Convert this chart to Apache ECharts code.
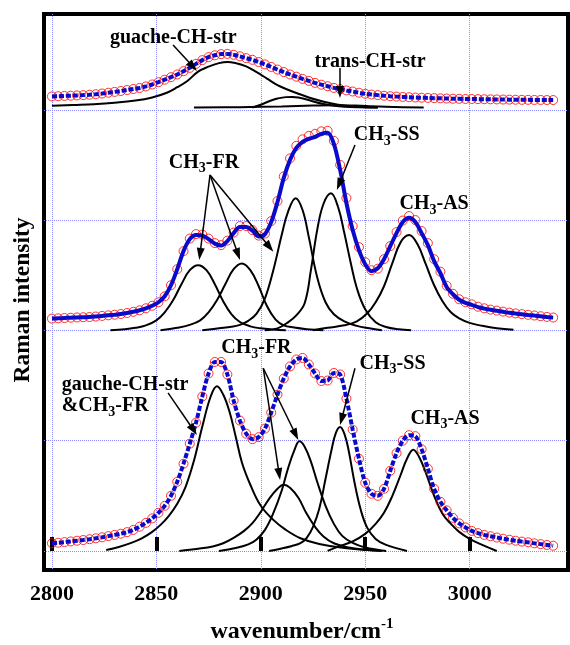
<!DOCTYPE html>
<html>
<head>
<meta charset="utf-8">
<title>Raman CH stretching region</title>
<script src="https://cdn.jsdelivr.net/npm/echarts@6/dist/echarts.min.js"></script>
<style>
  html, body { margin: 0; padding: 0; background: #fff; }
  #chart { width: 570px; height: 645px; }
</style>
</head>
<body>
<div id="chart"></div>
<script>
// 测量点的横坐标 (cm-1)
const wavenumber = [
  2800, 2803, 2806, 2809, 2812, 2815, 2818, 2821, 2824, 2827,
  2830, 2833, 2836, 2839, 2842, 2845, 2848, 2851, 2854, 2857,
  2860, 2863, 2866, 2869, 2872, 2875, 2878, 2881, 2884, 2887,
  2890, 2893, 2896, 2899, 2902, 2905, 2908, 2911, 2914, 2917,
  2920, 2923, 2926, 2929, 2932, 2935, 2938, 2941, 2944, 2947,
  2950, 2953, 2956, 2959, 2962, 2965, 2968, 2971, 2974, 2977,
  2980, 2983, 2986, 2989, 2992, 2995, 2998, 3001, 3004, 3007,
  3010, 3013, 3016, 3019, 3022, 3025, 3028, 3031, 3034, 3037,
  3040
];

// 上层谱图 (测量值, 拟合线与之重合)
const topCounts = [
  13.3, 13.5, 13.8, 14.0, 14.3, 14.6, 15.0, 15.5, 16.2, 17.0,
  17.8, 18.7, 19.7, 20.7, 21.7, 23.3, 25.2, 27.5, 30.0, 32.5,
  35.2, 38.5, 41.8, 45.8, 49.5, 52.5, 54.3, 55.5, 55.7, 54.8,
  53.3, 51.5, 49.8, 47.6, 45.2, 42.7, 40.1, 37.6, 35.2, 33.0,
  30.8, 28.8, 26.8, 25.0, 23.5, 21.8, 20.5, 19.3, 18.2, 17.0,
  16.0, 15.2, 14.6, 14.0, 13.5, 13.1, 12.8, 12.5, 12.2, 12.0,
  11.8, 11.6, 11.4, 11.2, 11.0, 10.9, 10.8, 10.7, 10.6, 10.5,
  10.4, 10.3, 10.2, 10.1, 10.0, 9.9, 9.9, 9.8, 9.8, 9.7,
  9.7
];

// 中层谱图
const midCounts = [
  11.7, 12.0, 12.3, 12.6, 12.9, 13.1, 13.3, 13.8, 14.4, 15.0,
  15.6, 16.3, 17.3, 18.5, 20.0, 22.0, 24.5, 28.0, 34.0, 45.0,
  61, 79, 91.5, 96, 95.5, 91.5, 87, 85, 89.5, 97.5,
  104, 104, 100, 94.5, 96.5, 109, 129, 153.5, 171.5, 184,
  190.5, 194, 196, 198.5, 199, 189, 165, 132, 104, 83,
  68, 60, 61.5, 71, 84, 98, 109.5, 114, 110, 99,
  87, 71, 58.5, 44.5, 36.5, 31, 28, 26, 23.6, 22,
  20.7, 19.7, 18.7, 17.7, 16.9, 16.2, 15.5, 14.8, 14.1, 13.4,
  12.8
];
const midFit = [
  11.7, 12.0, 12.3, 12.6, 12.9, 13.1, 13.3, 13.8, 14.4, 15.0,
  15.6, 16.3, 17.3, 18.5, 20.0, 22.0, 24.5, 28.0, 34.0, 45.0,
  61.0, 79.0, 91.0, 95.0, 94.5, 91.0, 86.5, 84.5, 89.0, 97.0,
  103, 103, 99.5, 93.5, 96, 108, 128, 152, 170, 182,
  188, 191, 193, 196, 197, 186, 160, 127, 100, 80,
  66, 59, 62, 71, 84, 97, 108, 112.3, 108, 97,
  85, 69, 57, 43.3, 36, 30.5, 27.5, 25.5, 23.2, 21.7,
  20.5, 19.5, 18.5, 17.5, 16.7, 16.0, 15.3, 14.7, 14.0, 13.3,
  12.7
];

// 下层谱图 (测量值, 拟合线与之重合)
const botCounts = [
  7.7, 8.2, 8.8, 9.5, 10.2, 10.9, 11.7, 12.6, 13.6, 14.8,
  16.0, 17.2, 18.8, 21.0, 24.2, 28.0, 32.5, 38.0, 45.0, 55.0,
  69, 87, 107, 128, 154, 177, 188.5, 188.5, 176, 150,
  130, 117, 111.5, 113.5, 122, 138, 156, 172, 184, 191,
  192.5, 186, 177, 169.5, 170, 177.5, 176, 152, 121, 92,
  68, 57, 55, 62, 80, 97.5, 110, 115.5, 114.5, 101.5,
  82, 62, 49, 40.5, 33, 27.5, 23.5, 20, 17.8, 16,
  14.7, 13.4, 12.2, 11.2, 10.2, 9.3, 8.6, 7.6, 6.8, 6.0,
  5.2
];

// 分峰 (上层)
const topGaucheX = [2800, 2810, 2820, 2830, 2840, 2848, 2855, 2860, 2865, 2870, 2875, 2880, 2884, 2888, 2893, 2898, 2903, 2908, 2913, 2918, 2923, 2928, 2933, 2940, 2948, 2956];
const topGaucheY = [4.0, 4.8, 5.6, 7.0, 9.2, 12.3, 17.0, 22.5, 29.0, 38.0, 43.0, 46.5, 47.7, 46.5, 43.3, 37.5, 31.0, 24.5, 20.0, 16.0, 12.3, 9.2, 6.7, 4.2, 2.8, 2.3];
const topSmallX = [2896, 2900, 2904, 2908, 2912, 2915, 2918, 2922, 2926, 2930, 2935, 2940, 2947, 2956];
const topSmallY = [2.3, 5.0, 8.5, 11.2, 12.6, 12.7, 12.2, 10.3, 7.8, 5.8, 4.0, 3.0, 2.5, 2.3];
const topTransX = [2868, 2890, 2910, 2925, 2935, 2945, 2960, 2978];
const topTransY = [2.3, 2.6, 3.3, 4.2, 4.6, 4.2, 3.0, 2.3];

// 分峰 (中层)
const midFR1X = [2828, 2835, 2840, 2845, 2850, 2854, 2858, 2862, 2866, 2870, 2874, 2878, 2882, 2886, 2890, 2895, 2900, 2906, 2912];
const midFR1Y = [0, 1, 2.5, 5, 10, 18, 30, 46, 60, 65, 60, 46, 29, 16, 8.3, 4, 2, 0.8, 0];
const midFR2X = [2852, 2860, 2866, 2871, 2875, 2879, 2883, 2887, 2891, 2895, 2899, 2903, 2907, 2911, 2916, 2922, 2930];
const midFR2Y = [0, 2.5, 5.5, 10, 18, 30, 46, 61, 66.7, 60, 44, 24, 11, 5, 2.8, 1.2, 0];
const midFR3X = [2872, 2880, 2886, 2890, 2894, 2898, 2902, 2906, 2910, 2913, 2916.7, 2920, 2923, 2927, 2931, 2935, 2940, 2946, 2952, 2958];
const midFR3Y = [0, 2, 3.5, 5.5, 9.5, 16.7, 32, 60, 95, 118, 131.7, 120, 93, 53, 28, 16, 9, 4.5, 2, 0];
const midSSX = [2902, 2908, 2913, 2917, 2921, 2924, 2927, 2930, 2933.6, 2937, 2940, 2943, 2946, 2950, 2955, 2960, 2966, 2972];
const midSSY = [0, 2, 8, 15, 27, 60, 100, 126, 136.7, 123, 97, 68, 42, 21, 8, 3.3, 1, 0];
const midASX = [2925, 2932, 2940, 2946, 2951, 2955, 2959, 2963, 2967, 2971, 2975, 2979, 2983, 2987, 2991, 2995, 3000, 3006, 3013, 3021];
const midASY = [0, 2.5, 5, 9, 17, 28, 44, 67, 88, 95, 86, 66, 45, 29, 18, 12, 7.5, 4.5, 2, 0.5];

// 分峰 (下层)
const botGFX = [2826, 2832, 2838, 2843, 2848, 2852, 2856, 2860, 2864, 2868, 2872, 2876, 2879, 2882, 2885, 2888, 2891, 2895, 2900, 2906, 2912, 2919, 2928, 2940, 2957];
const botGFY = [1, 4, 8, 12.5, 19, 26, 35, 47, 64, 90, 124, 154, 164.3, 156, 139, 114, 88, 66, 45, 31, 21, 12.7, 7, 3, 0.5];
const botFRaX = [2861, 2870, 2877, 2882, 2887, 2892, 2896, 2900, 2904, 2908, 2911, 2914, 2918, 2922, 2926, 2930, 2935, 2942, 2950, 2958];
const botFRaY = [0, 2.2, 4.5, 7.7, 13, 20, 27.7, 39, 52, 62, 66, 63, 53, 37, 24, 14.5, 7.7, 3.5, 1.2, 0];
const botFRbX = [2880, 2888, 2894, 2898, 2902, 2906, 2910, 2913, 2916, 2918.5, 2921, 2924, 2927, 2931, 2935, 2939, 2944, 2950, 2960];
const botFRbY = [0, 3, 6.5, 11.5, 21, 37.7, 60, 82, 100, 109.3, 104, 89, 69, 45, 27, 15, 8, 3.5, 0];
const botSSX = [2904, 2910, 2915, 2919, 2922, 2925, 2928, 2931, 2934, 2936, 2938, 2940, 2942, 2945, 2948, 2951, 2955, 2960, 2970];
const botSSY = [0, 2.5, 5, 7.7, 13, 24, 42, 72, 102, 118, 123.7, 117, 101, 67, 40, 23, 12, 6, 0];
const botASX = [2932, 2938, 2944, 2950, 2955, 2959, 2963, 2967, 2970, 2973, 2976, 2979, 2983, 2987, 2991, 2995, 3000, 3006, 3013];
const botASY = [0, 5, 9.5, 17, 27, 38, 55, 76, 92, 101, 93, 78, 55, 37, 27, 19, 12, 6, 0];

// 刻度
const xTicks = [2800, 2850, 2900, 2950, 3000];
const yGrid = [0, 110, 220, 330, 440];

// 标注文字 [文字, x, y, 对齐]
const notes = [
  ['guache-CH-str', 2858.1, 512.1, 'c'],
  ['trans-CH-str', 2952.3, 487.4, 'c'],
  ['{m|CH}{s|3}{m|-FR}', 2872.8, 387.5, 'c'],
  ['{m|CH}{s|3}{m|-SS}', 2960.3, 414.9, 'c'],
  ['{m|CH}{s|3}{m|-AS}', 2983.0, 346.1, 'c'],
  ['gauche-CH-str', 2804.4, 165.6, 'l'],
  ['{m|&CH}{s|3}{m|-FR}', 2804.4, 144.6, 'l'],
  ['{m|CH}{s|3}{m|-FR}', 2897.9, 202.2, 'c'],
  ['{m|CH}{s|3}{m|-SS}', 2963.1, 186.8, 'c'],
  ['{m|CH}{s|3}{m|-AS}', 2988.2, 131.8, 'c']
];
// 箭头 [起点, 终点]
const arrows = [
  [[2858.0, 504.6], [2867.5, 483.1]],
  [[2937.9, 481.7], [2937.9, 457.8]],
  [[2875.7, 375.0], [2870.9, 296.2]],
  [[2875.7, 375.0], [2889.1, 295.9]],
  [[2875.7, 375.0], [2904.2, 303.1]],
  [[2945.1, 404.9], [2937.5, 365.6]],
  [[2855.6, 157.6], [2867.8, 120.6]],
  [[2901.2, 182.2], [2908.8, 76.7]],
  [[2901.2, 182.2], [2916.7, 116.1]],
  [[2945.1, 182.2], [2938.7, 131.4]]
];

const panelOffset = { top: 440, mid: 220, bot: 0 };
const FONT = '"Liberation Serif", "Times New Roman", serif';
const RED = '#ff0000';
const BLUE = '#0a0acd';
const GRIDCOLOR = '#8c8cff';

const toPairs = (xs, ys, off) => xs.map((x, i) => [x, ys[i] + off]);

const components = [
  [topGaucheX, topGaucheY, panelOffset.top],
  [topSmallX, topSmallY, panelOffset.top],
  [topTransX, topTransY, panelOffset.top],
  [midFR1X, midFR1Y, panelOffset.mid],
  [midFR2X, midFR2Y, panelOffset.mid],
  [midFR3X, midFR3Y, panelOffset.mid],
  [midSSX, midSSY, panelOffset.mid],
  [midASX, midASY, panelOffset.mid],
  [botGFX, botGFY, panelOffset.bot],
  [botFRaX, botFRaY, panelOffset.bot],
  [botFRbX, botFRbY, panelOffset.bot],
  [botSSX, botSSY, panelOffset.bot],
  [botASX, botASY, panelOffset.bot]
];

const series = [];
components.forEach(c => {
  series.push({
    type: 'line',
    data: toPairs(c[0], c[1], c[2]),
    smooth: 0.4,
    symbol: 'none',
    lineStyle: { color: '#000', width: 2 },
    z: 2,
    silent: true
  });
});

// 测量点: 红色空心圆
[[topCounts, panelOffset.top], [midCounts, panelOffset.mid], [botCounts, panelOffset.bot]].forEach(p => {
  series.push({
    type: 'scatter',
    data: toPairs(wavenumber, p[0], p[1]),
    symbol: 'circle',
    symbolSize: 9,
    itemStyle: { color: 'rgba(255,255,255,0)', borderColor: RED, borderWidth: 1 },
    z: 3,
    silent: true
  });
});

// 拟合线: 蓝色
[[topCounts, panelOffset.top, [5, 2]], [midFit, panelOffset.mid, 'solid'], [botCounts, panelOffset.bot, [5, 2]]].forEach(p => {
  series.push({
    type: 'line',
    data: toPairs(wavenumber, p[0], p[1]),
    smooth: 0.3,
    symbol: 'none',
    lineStyle: { color: BLUE, width: 4, type: p[2] },
    z: 4,
    silent: true
  });
});

const richStyle = {
  m: { fontSize: 20, fontWeight: 'bold', fontFamily: FONT, color: '#000', lineHeight: 26 },
  s: { fontSize: 14, fontWeight: 'bold', fontFamily: FONT, color: '#000', lineHeight: 12, verticalAlign: 'bottom' }
};

// 标注 (文字和箭头)
series.push({
  type: 'line',
  data: [],
  z: 5,
  silent: true,
  markPoint: {
    symbol: 'circle',
    symbolSize: 1,
    itemStyle: { color: 'rgba(0,0,0,0)' },
    animation: false,
    data: notes.map(n => ({
      name: n[0],
      coord: [n[1], n[2]],
      label: {
        show: true,
        position: n[3] === 'l' ? 'right' : 'inside',
        distance: 0,
        formatter: p => p.name,
        fontSize: 20,
        fontWeight: 'bold',
        fontFamily: FONT,
        color: '#000',
        lineHeight: 26,
        rich: richStyle
      }
    }))
  },
  markLine: {
    silent: true,
    animation: false,
    label: { show: false },
    lineStyle: { color: '#000', width: 1.5, type: 'solid' },
    emphasis: { disabled: true },
    data: arrows.map(a => [
      { coord: a[0], symbol: 'none' },
      { coord: a[1], symbol: 'triangle', symbolSize: [8, 12] }
    ])
  }
});

const chart = echarts.init(document.getElementById('chart'), null, { renderer: 'canvas' });
const option = {
  animation: false,
  grid: {
    left: 44, right: 2, top: 14, bottom: 75,
    show: true,
    borderColor: '#000',
    borderWidth: 4,
    outerBoundsMode: 'none'
  },
  xAxis: {
    type: 'value',
    min: 2796.2,
    max: 3047.1,
    axisLine: { show: false },
    axisTick: {
      show: true, inside: true, length: 14,
      customValues: xTicks,
      lineStyle: { color: '#000', width: 4 }
    },
    axisLabel: {
      customValues: xTicks,
      formatter: v => String(v),
      margin: 13,
      color: '#000',
      fontSize: 22,
      fontWeight: 'bold',
      fontFamily: FONT
    },
    splitLine: { show: true, lineStyle: { color: GRIDCOLOR, width: 1, type: 'dotted' } }
  },
  yAxis: {
    type: 'value',
    min: -19,
    max: 535.5,
    axisLine: { show: false },
    axisTick: { show: false, customValues: yGrid },
    axisLabel: { show: false, customValues: yGrid },
    splitLine: { show: true, lineStyle: { color: GRIDCOLOR, width: 1, type: 'dotted' } }
  },
  graphic: [
    {
      type: 'text',
      x: 23, y: 300,
      rotation: Math.PI / 2,
      silent: true,
      style: {
        text: 'Raman intensity',
        fontSize: 23.5, fontWeight: 'bold', fontFamily: FONT,
        fill: '#000',
        align: 'center', verticalAlign: 'middle',
        textAlign: 'center', textVerticalAlign: 'middle'
      }
    },
    {
      type: 'text',
      x: 302, y: 632,
      silent: true,
      style: {
        text: '{m|wavenumber/cm}{sup|-1}',
        fill: '#000',
        align: 'center', verticalAlign: 'middle',
        textAlign: 'center', textVerticalAlign: 'middle',
        rich: {
          m: { fontSize: 24, fontWeight: 'bold', fontFamily: FONT, fill: '#000', lineHeight: 30 },
          sup: { fontSize: 15, fontWeight: 'bold', fontFamily: FONT, fill: '#000', lineHeight: 12, verticalAlign: 'top' }
        }
      }
    }
  ],
  series: series
};
chart.setOption(option);
</script>
</body>
</html>
